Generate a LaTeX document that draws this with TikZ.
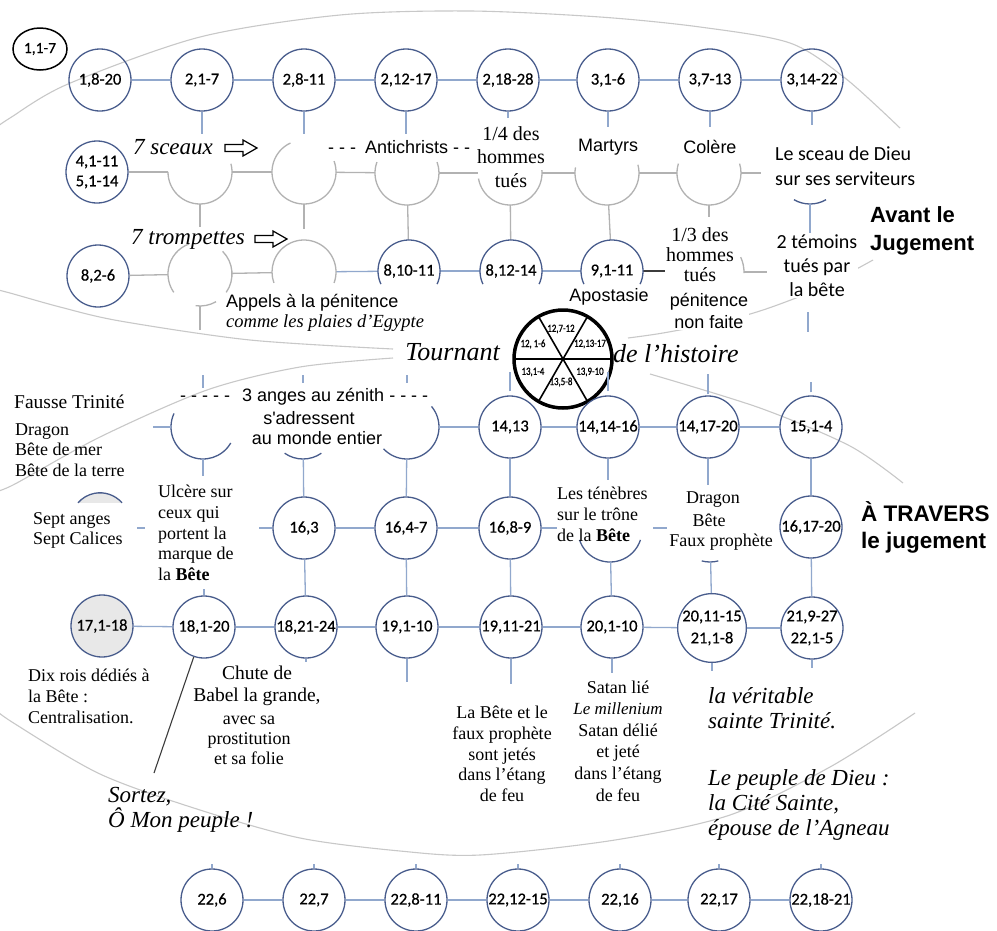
\documentclass[tikz,border=0pt]{standalone}
\usepackage{fontspec}
\setmainfont{Liberation Serif}
\newfontfamily\arialf{Liberation Sans}
\newfontfamily\carlf{Carlito}
\newfontfamily\carlb[FakeBold=0.6]{Carlito}
\newfontfamily\carlc[FakeStretch=0.8,FakeBold=1]{Carlito}
\usetikzlibrary{shapes.geometric}
\definecolor{cblue}{RGB}{72,92,140}
\definecolor{lblue}{RGB}{145,168,205}
\definecolor{garc}{RGB}{178,178,178}
\definecolor{bigc}{RGB}{200,200,200}
\definecolor{fillg}{RGB}{232,232,232}
\definecolor{darkl}{RGB}{60,60,60}
\newcommand\fs[2]{\fontsize{#1}{#2}\selectfont}
\newcommand\parc[4]{(#1.center) ++(#2:#4pt) arc[start angle=#2, end angle=#3, radius=#4pt]}
\begin{document}
\begin{tikzpicture}[x=1pt,y=-1pt,
 circ/.style={circle,draw=cblue,line width=1.3pt,minimum size=62pt,inner sep=0pt,font=\carlb\fs{16.5}{20},align=center},
 ghost/.style={circle,minimum size=64pt,inner sep=0pt,font=\carlb\fs{16.5}{20},align=center},
 conn/.style={draw=lblue,line width=1.3pt},
 grayl/.style={draw=garc,line width=1.3pt},
 blarc/.style={draw=cblue,line width=1.3pt},
 darkline/.style={draw=darkl,line width=1.1pt},
 bigcurve/.style={draw=bigc,line width=1.1pt},
 txt/.style={inner sep=0pt,align=center},
 sans/.style={txt,font=\arialf\fs{18}{21}},
 serif/.style={txt,font=\fs{18}{20.7}},
 scr/.style={txt,font=\itshape\fs{23}{25}},
 arrowbox/.style={draw=black,line width=1.2pt,fill=white,line join=miter},
 wlab/.style={inner sep=0pt,font=\carlc\fs{11}{12}}
]
\useasboundingbox (0,0) rectangle (997,930);
\fill[white] (0,0) rectangle (997,930);
\clip (0,0) rectangle (997,930);

% big background curves
\draw[bigcurve] plot[smooth] coordinates {(-10,132) (10,118) (68,84) (200,37) (340,15) (470,11) (600,17) (700,27) (790,43) (845,78) (900,128)};
\draw[bigcurve] plot[smooth] coordinates {(-10,288) (10,293) (60,307) (120,321) (250,340) (393,349)};
\draw[bigcurve] plot[smooth] coordinates {(628,338) (663,333) (720,322) (766,309) (820,288) (873,260)};
\draw[bigcurve] plot[smooth] coordinates {(-10,493) (13,485) (100,437) (207,390) (300,367) (393,358)};
\draw[bigcurve] plot[smooth] coordinates {(650,374) (760,408) (850,446) (903,483)};
\draw[bigcurve] plot[smooth] coordinates {(-10,705) (12,722) (100,774) (200,810) (300,838) (400,851) (480,855) (615,840) (730,815) (830,767) (915,713)};

% ---------- Row 1
\node[ellipse,draw=black,line width=1.5pt,minimum width=54pt,minimum height=42pt,inner sep=0pt,font=\carlb\fs{15.5}{18}] (a0) at (40,49) {1,1-7};
\node[circ] (a1) at (100,80) {1,8-20};
\node[circ] (a2) at (202,80) {2,1-7};
\node[circ] (a3) at (304,80) {2,8-11};
\node[circ] (a4) at (406,80) {2,12-17};
\node[circ] (a5) at (508,80) {2,18-28};
\node[circ] (a6) at (608,80) {3,1-6};
\node[circ] (a7) at (710,80) {3,7-13};
\node[circ] (a8) at (812,80) {3,14-22};
\foreach \i/\j in {a1/a2,a2/a3,a3/a4,a4/a5,a5/a6,a6/a7,a7/a8} \draw[conn] (\i) -- (\j);
\foreach \n/\l in {a2/22,a3/22,a4/22,a5/6,a6/15,a7/15,a8/13} \draw[conn] (\n.south) -- ++(0,\l);

% ---------- Row 2
\node[circ] (b1) at (97,172) {4,1-11\\5,1-14};
\node[ghost] (g2) at (200,172) {};
\node[ghost] (g3) at (304,172) {};
\node[ghost] (g4) at (407,173) {};
\node[ghost] (g5) at (510,173) {};
\node[ghost] (g6) at (607,173) {};
\node[ghost] (g7) at (709,173) {};
\node[ghost] (b8) at (810,172) {};
\foreach \i/\j in {b1/g2,g2/g3,g3/g4,g4/g5,g5/g6,g6/g7} \draw[grayl] (\i) -- (\j);
\draw[grayl] (g7.east) -- ++(20,0);
\draw[grayl] \parc{g2}{180}{375}{32};
\draw[grayl] \parc{g3}{115}{380}{32};
\draw[grayl] \parc{g4}{160}{380}{32};
\draw[grayl] \parc{g5}{190}{365}{32};
\draw[grayl] \parc{g6}{170}{375}{32};
\draw[grayl] \parc{g7}{163}{377}{32};
\draw[blarc] \parc{b8}{240}{300}{32};
\draw[conn] (b8.south) -- ++(0,29);

\node[txt,font=\itshape\fs{23}{25}] (t7s) at (173,147) {7 sceaux};
\coordinate (ar1) at (225,148);
\draw[arrowbox] (ar1) ++(0,-3.5) -- ++(18,0) -- ++(0,-4.5) -- ++(14,8) -- ++(-14,8) -- ++(0,-4.5) -- ++(-18,0) -- cycle;
\node[sans,anchor=west] (tanti) at (328,147) {- - -\hspace{9pt}Antichrists - -};
\node[txt,font=\fs{20}{23.5}] (t14) at (511,157) {1/4 des\\hommes\\tués};
\node[sans] (tmart) at (608,147) {Martyrs};
\node[sans] (tcol) at (710,147) {Colère};
\node[txt,align=left,anchor=west,font=\carlf\fs{20}{25}] (tsceau) at (775,166) {Le sceau de Dieu\\sur ses serviteurs};
\node[txt,align=left,anchor=west,font=\arialf\bfseries\fs{22}{28}] (tavant) at (870,231) {Avant le\\Jugement};

% ---------- Row 3
\node[circ] (c1) at (98,276) {8,2-6};
\node[ghost] (h2) at (200,274) {};
\node[ghost] (h3) at (304,272) {};
\node[ghost,minimum size=62pt] (c4) at (409,271) {8,10-11};
\node[ghost,minimum size=62pt] (c5) at (511,271) {8,12-14};
\node[ghost,minimum size=62pt] (c6) at (612,271) {9,1-11};
\node[ghost,minimum size=70pt] (h7) at (709,272) {};
\draw[grayl] (g2.south) -- ++(0,23);
\draw[grayl] (g3.south) -- ++(0,25);
\draw[grayl] (g4) -- (c4);
\draw[grayl] (g5) -- (c5);
\draw[grayl] (g6) -- (c6);
\draw[grayl] (g7.south) -- ++(0,12);
\draw[grayl] (c1) -- (h2);
\draw[grayl] (h2) -- (h3);
\draw[conn] (h3) -- (c4);
\draw[conn] (c4) -- (c5);
\draw[conn] (c5) -- (c6);
\draw[darkline] (c6.east) -- ++(22,0);
\draw[grayl] (h7.east) -- ++(23,0);
\draw[grayl] \parc{h2}{110}{215}{32};
\draw[grayl] \parc{h2}{325}{405}{32};
\draw[grayl] \parc{h2}{262}{300}{32};
\draw[grayl] (h2.south) -- ++(0,24);
\draw[grayl] \parc{h3}{340}{560}{32};
\draw[blarc] \parc{c4}{335}{565}{31};
\draw[blarc] \parc{c5}{335}{565}{31};
\draw[blarc] \parc{c6}{335}{565}{31};
\draw[grayl] \parc{h7}{358}{385}{35};

\node[txt,font=\itshape\fs{23}{25},anchor=west] (t7t) at (131,239) {7 trompettes};
\coordinate (ar2) at (255,239);
\draw[arrowbox] (ar2) ++(0,-3.5) -- ++(18,0) -- ++(0,-4.5) -- ++(14,8) -- ++(-14,8) -- ++(0,-4.5) -- ++(-18,0) -- cycle;
\node[txt,font=\fs{20}{20}] (t13) at (700,255) {1/3 des\\hommes\\tués};
\node[sans,fill=white,inner sep=1pt,font=\arialf\fs{18}{22}] (tpen) at (709,311) {pénitence\\non faite};
\node[txt,fill=white,inner sep=1pt,font=\carlf\fs{20}{24}] (ttem) at (817,266) {2 témoins\\tués par\\la bête};
\coordinate (s8) at (808,312);
\draw[conn] (s8) -- ++(0,20);
\node[sans] (tapo) at (609,297) {Apostasie};
\node[sans,anchor=west] (tapp) at (226,303) {Appels à la pénitence};
\node[txt,anchor=west,font=\itshape\fs{18.5}{20}] (tcomme) at (226,323) {comme les plaies d'Egypte};

% ---------- Tournant
\node[txt,anchor=east,font=\itshape\fs{26}{28}] (ttour) at (500,352) {Tournant};
\node[txt,anchor=west,font=\itshape\fs{26}{28}] (thist) at (613,354) {de l'histoire};
\node[circle,draw=black,line width=3.5pt,minimum size=98pt,inner sep=0pt,outer sep=0pt] (wh) at (563,359) {};
\draw[black,line width=1.6pt] (wh.0) -- (wh.180);
\draw[black,line width=1.6pt] (wh.60) -- (wh.240);
\draw[black,line width=1.6pt] (wh.120) -- (wh.300);
\node[wlab] (w1) at (561,329) {12,7-12};
\node[wlab] (w2) at (590,344) {12,13-17};
\node[wlab] (w3) at (590,372) {13,9-10};
\node[wlab] (w4) at (561,382) {13,5-8};
\node[wlab] (w5) at (533,372) {13,1-4};
\node[wlab] (w6) at (533,344) {12, 1-6};

% ---------- Row 4
\node[ghost] (e2) at (203,427) {};
\node[ghost] (e3) at (303,427) {};
\node[ghost] (e4) at (407,427) {};
\node[circ] (d5) at (510,427) {14,13};
\node[circ] (d6) at (608,427) {14,14-16};
\node[circ] (d7) at (708,427) {14,17-20};
\node[circ] (d8) at (811,427) {15,1-4};
\draw[blarc] \parc{e2}{155}{330}{32};
\draw[blarc] \parc{e3}{235}{305}{32};
\draw[blarc] \parc{e4}{223}{400}{32};
\draw[conn] (e2.west) -- ++(-18,0);
\foreach \i/\j in {e4/d5,d5/d6,d6/d7,d7/d8} \draw[conn] (\i) -- (\j);
\draw[conn] ([yshift=7pt]e2.north) -- ++(0,-13);
\draw[conn] ([yshift=12pt]e3.north) -- ++(0,-8);
\draw[conn] ([yshift=12pt]e4.north) -- ++(0,-8);
\draw[conn] ([yshift=4pt]d5.north) -- ++(0,-19);
\draw[conn] ([yshift=4pt]d6.north) -- ++(0,-19);
\draw[conn] ([yshift=1pt]d7.north) -- ++(0,-20);
\draw[conn] ([yshift=3pt]d8.north) -- ++(0,-10);

\node[txt,anchor=west,font=\fs{19.5}{21}] (tfausse) at (14,402) {Fausse Trinité};
\node[serif,align=left,anchor=west,font=\fs{18}{20.5}] (tdragon) at (15,450) {Dragon\\Bête de mer\\Bête de la terre};
\node[sans,anchor=west] (tanges) at (180,397) {- - - - -\hspace{12pt}3 anges au zénith - - - -};
\node[sans] (tadr) at (309,418) {s'adressent};
\node[sans] (tmonde) at (317,438) {au monde entier};

% ---------- Row 5
\node[ghost,minimum size=58.4pt] (f1) at (100,522) {};
\fill[fillg] \parc{f1}{41}{139}{29.2} -- cycle;
\draw[blarc] \parc{f1}{41}{139}{29.2};
\node[serif,align=left,anchor=west,font=\fs{18}{20}] (tsept) at (33,530) {Sept anges\\Sept Calices};
\coordinate (k1) at (137,528);
\draw[conn] (k1) -- ++(8,0);
\node[serif,align=left,anchor=west] (tulc) at (158,533) {Ulcère sur\\ceux qui\\portent la\\marque de\\la \textbf{Bête}};
\node[circ] (f3) at (304,528) {16,3};
\node[circ] (f4) at (406,528) {16,4-7};
\node[circ] (f5) at (510,528) {16,8-9};
\node[ghost] (f6) at (610,530) {};
\node[ghost] (f7) at (710,530) {};
\node[circ] (f8) at (811,527) {16,17-20};
\draw[blarc] \parc{f6}{198}{342}{32};
\draw[blarc] \parc{f7}{255}{285}{32};
\draw[conn] (f3.west) -- ++(-13,0);
\draw[conn] (f3) -- (f4);
\draw[conn] (f4) -- (f5);
\draw[conn] (f5.east) -- ++(15,0);
\coordinate (k2) at (653,528);
\draw[conn] (k2) -- ++(14,0);
\draw[conn] (e2.south) -- ++(0,17);
\draw[conn] (e3) -- (f3);
\draw[conn] (e4) -- (f4);
\draw[conn] (d5) -- (f5);
\draw[conn] (d6.south) -- ++(0,21);
\draw[conn] (d7.south) -- ++(0,26);
\draw[conn] (d8) -- (f8);

\node[serif,align=left,anchor=west,font=\fs{18}{21}] (tten) at (557,514) {Les ténèbres\\sur le trône\\de la \textbf{Bête}};
\node[serif] (tdr1) at (713,500) {Dragon};
\node[serif] (tdr2) at (709,520) {Bête};
\node[serif] (tdr3) at (721,542) {Faux prophète};
\node[txt,align=left,anchor=west,font=\arialf\bfseries\fs{22.5}{27}] (ttrav) at (861,527) {À TRAVERS\\le jugement};

% ---------- Row 6
\node[circ,fill=fillg] (m1) at (102,626) {17,1-18};
\node[circ] (m2) at (204,627) {18,1-20};
\node[circ] (m3) at (306,627) {18,21-24};
\node[circ] (m4) at (407,627) {19,1-10};
\node[circ] (m5) at (511,627) {19,11-21};
\node[circ] (m6) at (612,627) {20,1-10};
\node[circ,font=\carlb\fs{16.5}{22}] (m7) at (712,628) {20,11-15\\21,1-8};
\node[circ,font=\carlb\fs{16.5}{22}] (m8) at (812,628) {21,9-27\\22,1-5};
\foreach \i/\j in {m1/m2,m2/m3,m3/m4,m4/m5,m5/m6,m6/m7,m7/m8} \draw[conn] (\i) -- (\j);
\draw[conn] (f3) -- (m3);
\draw[conn] (f4) -- (m4);
\draw[conn] (f5) -- (m5);
\draw[conn] (f6) -- (m6);
\draw[conn] (f7) -- (m7);
\draw[conn] (f8) -- (m8);
\draw[conn] (m2.north) -- ++(0,-6);
\foreach \n/\l in {m3/3,m4/23,m5/25,m6/14,m7/8,m8/8} \draw[conn] (\n.south) -- ++(0,\l);
\coordinate (sz) at (154,773);
\draw[darkline] (m2) -- (sz);

\node[serif,align=left,anchor=west,font=\fs{18}{21}] (tdix) at (28,696) {Dix rois dédiés à\\la Bête :\\Centralisation.};
\node[txt,font=\fs{19.5}{22}] (tchute) at (257,686) {Chute de\\Babel la grande,};
\node[txt,font=\fs{18}{20}] (tavec) at (249,740) {avec sa\\prostitution\\et sa folie};
\node[scr,align=left,anchor=west] (tsortez) at (108,810) {Sortez,\\Ô Mon peuple !};
\node[serif,font=\fs{18}{20.8}] (tlabete) at (502,754) {La Bête et le\\faux prophète\\sont jetés\\dans l'étang\\de feu};
\node[serif,font=\fs{18}{21.6}] (tsatan) at (618,741) {Satan lié\\{\itshape\fontsize{17}{21.6}\selectfont Le millenium}\\Satan délié\\et jeté\\dans l'étang\\de feu};
\node[scr,align=left,anchor=west] (tver) at (708,708) {la véritable\\sainte Trinité.};
\node[scr,align=left,anchor=west] (tpeuple) at (708,805) {Le peuple de Dieu :\\la Cité Sainte,\\épouse de l'Agneau};

% ---------- Bottom row
\node[circ] (p1) at (212,900) {22,6};
\node[circ] (p2) at (314,900) {22,7};
\node[circ] (p3) at (416,900) {22,8-11};
\node[circ] (p4) at (518,900) {22,12-15};
\node[circ] (p5) at (620,900) {22,16};
\node[circ] (p6) at (719,900) {22,17};
\node[circ] (p7) at (821,900) {22,18-21};
\foreach \i/\j in {p1/p2,p2/p3,p3/p4,p4/p5,p5/p6,p6/p7} \draw[conn] (\i) -- (\j);
\foreach \n in {p1,p2,p3,p4,p5,p6,p7} \draw[conn] (\n.north) -- ++(0,-4);
\end{tikzpicture}
\end{document}
